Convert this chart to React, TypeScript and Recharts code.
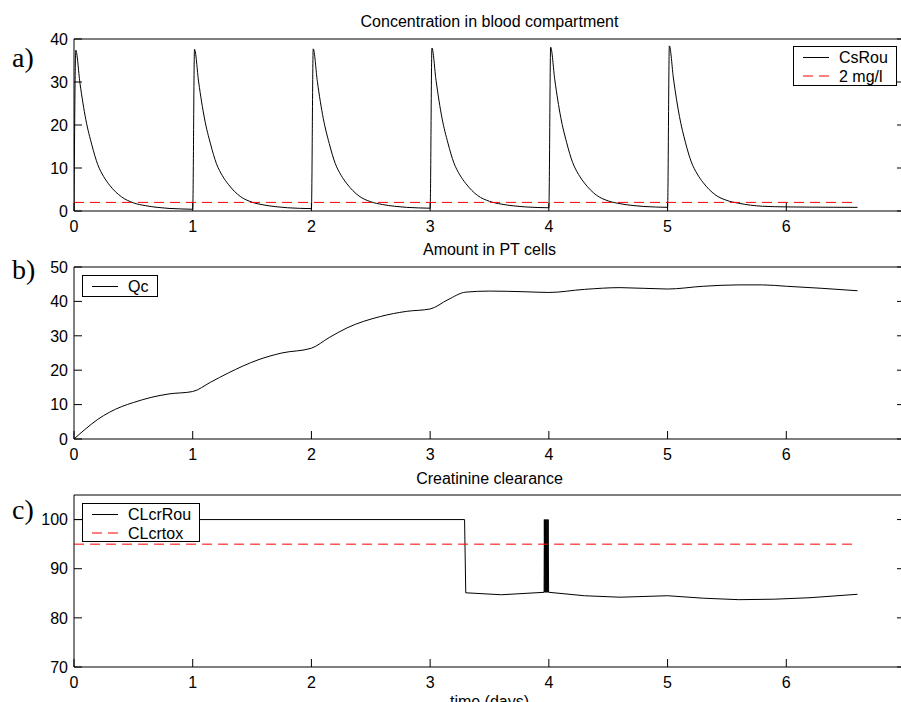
import { LineChart, Line, XAxis, YAxis, Legend } from 'recharts'

const SANS = '"Liberation Sans", Arial, Helvetica, sans-serif'
const SERIF = '"Liberation Serif", "Times New Roman", serif'

// time axis (days)
const dayTicks = [0, 1, 2, 3, 4, 5, 6]
const frameTicks = [0, 1, 2, 3, 4, 5, 6, 7]

// a) concentration in blood compartment, one profile per daily dose
const doseDays = [0, 1, 2, 3, 4, 5]
const doseOffsets = [0.015, 0.05, 0.1, 0.15, 0.2, 0.25, 0.3, 0.4, 0.5, 0.6, 0.7, 0.8, 0.9, 1.0, 1.2, 1.4, 1.6]
const doseProfiles = [
  [37.4, 29.8, 21.2, 15.4, 10.8, 8.0, 6.0, 3.3, 1.9, 1.25, 0.85, 0.6, 0.48, 0.4],
  [37.6, 30.0, 21.4, 15.6, 11.0, 8.2, 6.2, 3.4, 2.05, 1.4, 1.0, 0.75, 0.62, 0.55],
  [37.7, 30.1, 21.5, 15.7, 11.1, 8.3, 6.3, 3.5, 2.15, 1.5, 1.1, 0.85, 0.72, 0.65],
  [37.9, 30.3, 21.6, 15.8, 11.2, 8.4, 6.4, 3.6, 2.25, 1.6, 1.2, 0.95, 0.82, 0.75],
  [38.1, 30.5, 21.8, 15.9, 11.3, 8.5, 6.5, 3.7, 2.35, 1.7, 1.3, 1.05, 0.92, 0.85],
  [38.4, 30.7, 22.0, 16.0, 11.4, 8.6, 6.6, 3.8, 2.45, 1.8, 1.35, 1.1, 1.0, 0.95, 0.9, 0.87, 0.85]
]
const concLimitDays = [0, 6.6]
const concLimit = 2

// b) amount in PT cells
const qcDays = [0, 0.1, 0.2, 0.3, 0.4, 0.5, 0.65, 0.8, 1.0, 1.15, 1.3, 1.55, 1.75, 2.0, 2.15, 2.3, 2.58, 2.8, 3.0, 3.15, 3.3, 3.5, 3.8, 4.0, 4.3, 4.6, 5.0, 5.3, 5.6, 5.8, 6.0, 6.3, 6.6]
const qcValues = [0, 3.0, 5.7, 7.8, 9.4, 10.6, 12.1, 13.1, 13.8, 16.5, 19.2, 23.0, 25.0, 26.4, 29.5, 32.3, 35.6, 37.1, 37.8, 40.5, 42.7, 43.0, 42.8, 42.6, 43.5, 44.0, 43.6, 44.4, 44.8, 44.8, 44.4, 43.8, 43.1]

// c) creatinine clearance
const clDays = [0, 3.29, 3.3, 3.6, 3.96, 3.962, 3.966, 3.97, 3.974, 3.978, 3.982, 3.986, 3.99, 3.994, 3.998, 4.0, 4.3, 4.6, 5.0, 5.3, 5.6, 5.9, 6.2, 6.6]
const clValues = [100, 100, 85.1, 84.7, 85.2, 100, 85.2, 100, 85.2, 100, 85.2, 100, 85.2, 100, 85.2, 85.2, 84.5, 84.2, 84.5, 84.0, 83.7, 83.8, 84.1, 84.8]
const clToxDays = [0, 6.6]
const clTox = 95

const concData = [
  { t: 0, v: 0 },
  ...doseDays.flatMap((d, i) =>
    doseProfiles[i].map((v, j) => ({ t: +(d + doseOffsets[j]).toFixed(3), v }))
  )
]
const concLimitData = concLimitDays.map((t) => ({ t, v: concLimit }))
const qcData = qcDays.map((t, i) => ({ t, v: qcValues[i] }))
const clData = clDays.map((t, i) => ({ t, v: clValues[i] }))
const clToxData = clToxDays.map((t) => ({ t, v: clTox }))

const TICK_LEN = 8
const X_MARGIN = 21
const Y_MARGIN = 6

const BottomTick = ({ x, y, payload }: any) => (
  <g>
    <line x1={x} x2={x} y1={y - X_MARGIN} y2={y - X_MARGIN - TICK_LEN} stroke="#000" />
    <text x={x} y={y} textAnchor="middle" fontFamily={SANS} fontSize={16} fill="#000">
      {payload.value}
    </text>
  </g>
)
const TopTick = ({ x, y }: any) => <line x1={x} x2={x} y1={y} y2={y + TICK_LEN} stroke="#000" />
const LeftTick = ({ x, y, payload }: any) => (
  <g>
    <line x1={x + Y_MARGIN} x2={x + Y_MARGIN + TICK_LEN} y1={y} y2={y} stroke="#000" />
    <text x={x} y={y} dy="0.36em" textAnchor="end" fontFamily={SANS} fontSize={16} fill="#000">
      {payload.value}
    </text>
  </g>
)
const RightTick = ({ x, y }: any) => <line x1={x} x2={x - TICK_LEN} y1={y} y2={y} stroke="#000" />

interface Series {
  name: string
  data: { t: number; v: number }[]
  color: string
  dash?: string
  curve?: 'monotone' | 'linear'
}

interface LegendBoxProps {
  series: Series[]
  width: number
  height: number
}

function LegendBox({ series, width, height }: LegendBoxProps) {
  return (
    <div style={{ width, height, boxSizing: 'border-box', border: '1px solid #000', background: '#fff' }}>
      <svg width={width - 2} height={height - 2} style={{ display: 'block' }}>
        {series.map((s, i) => {
          const cy = 10.5 + i * 18.5
          return (
            <g key={s.name}>
              <line x1={9} x2={35} y1={cy} y2={cy} stroke={s.color} strokeDasharray={s.dash} />
              <text x={45} y={cy + 5.6} fontFamily={SANS} fontSize={16} fill="#000">
                {s.name}
              </text>
            </g>
          )
        })}
      </svg>
    </div>
  )
}

interface PanelProps {
  top: number
  yDomain: [number, number]
  yTicks: number[]
  series: Series[]
  legend: { left: number; top: number; width: number; height: number }
}

function Panel({ top, yDomain, yTicks, series, legend }: PanelProps) {
  return (
    <div style={{ position: 'absolute', left: 0, top }}>
      <LineChart width={910} height={240} margin={{ top: 38, right: 0, bottom: 0, left: 14 }}>
        <XAxis
          xAxisId={0}
          dataKey="t"
          type="number"
          domain={[0, 7]}
          ticks={dayTicks}
          interval={0}
          allowDataOverflow
          height={29}
          tickLine={false}
          tickSize={0}
          tickMargin={X_MARGIN}
          axisLine={{ stroke: '#000' }}
          tick={BottomTick}
        />
        <XAxis
          xAxisId="top"
          orientation="top"
          type="number"
          domain={[0, 7]}
          ticks={frameTicks}
          interval={0}
          allowDataOverflow
          height={1}
          tickLine={false}
          tickSize={0}
          tickMargin={0}
          axisLine={{ stroke: '#000' }}
          tick={TopTick}
        />
        <YAxis
          yAxisId={0}
          type="number"
          domain={yDomain}
          ticks={yTicks}
          interval={0}
          allowDataOverflow
          width={60}
          tickLine={false}
          tickSize={0}
          tickMargin={Y_MARGIN}
          axisLine={{ stroke: '#000' }}
          tick={LeftTick}
        />
        <YAxis
          yAxisId="right"
          orientation="right"
          type="number"
          domain={yDomain}
          ticks={yTicks}
          interval={0}
          allowDataOverflow
          width={5}
          tickLine={false}
          tickSize={0}
          tickMargin={0}
          axisLine={{ stroke: '#000' }}
          tick={RightTick}
        />
        {series.map((s) => (
          <Line
            key={s.name}
            xAxisId={0}
            yAxisId={0}
            name={s.name}
            data={s.data}
            dataKey="v"
            type={s.curve ?? 'linear'}
            stroke={s.color}
            strokeWidth={1}
            strokeDasharray={s.dash}
            dot={false}
            activeDot={false}
            isAnimationActive={false}
          />
        ))}
        <Legend
          layout="vertical"
          align="center"
          verticalAlign="middle"
          wrapperStyle={{ left: legend.left, top: legend.top, width: legend.width, height: legend.height }}
          content={() => <LegendBox series={series} width={legend.width} height={legend.height} />}
        />
      </LineChart>
    </div>
  )
}

export default function App() {
  return (
    <div style={{ position: 'absolute', left: 0, top: 0, width: 901, height: 702, overflow: 'hidden', background: '#fff' }}>
      <Panel
        top={0}
        yDomain={[0, 40]}
        yTicks={[0, 10, 20, 30, 40]}
        series={[
          { name: 'CsRou', data: concData, color: '#000', curve: 'monotone' },
          { name: '2 mg/l', data: concLimitData, color: '#ff0000', dash: '10 6' }
        ]}
        legend={{ left: 793, top: 46, width: 104, height: 40 }}
      />
      <Panel
        top={228}
        yDomain={[0, 50]}
        yTicks={[0, 10, 20, 30, 40, 50]}
        series={[{ name: 'Qc', data: qcData, color: '#000', curve: 'monotone' }]}
        legend={{ left: 82, top: 47, width: 76, height: 22 }}
      />
      <Panel
        top={456}
        yDomain={[70, 105]}
        yTicks={[70, 80, 90, 100]}
        series={[
          { name: 'CLcrRou', data: clData, color: '#000' },
          { name: 'CLcrtox', data: clToxData, color: '#ff0000', dash: '10 6' }
        ]}
        legend={{ left: 82, top: 47, width: 118, height: 39 }}
      />
      <svg width={901} height={702} style={{ position: 'absolute', left: 0, top: 0, pointerEvents: 'none' }}>
        <g fontFamily={SANS} fontSize={16} fill="#000" textAnchor="middle">
          <text x={489.5} y={27}>Concentration in blood compartment</text>
          <text x={489.5} y={255}>Amount in PT cells</text>
          <text x={489.5} y={484}>Creatinine clearance</text>
          <text x={489.5} y={707}>time (days)</text>
        </g>
        <g fontFamily={SERIF} fontSize={28} fill="#000">
          <text x={12} y={67}>a)</text>
          <text x={12} y={279}>b)</text>
          <text x={12} y={519}>c)</text>
        </g>
      </svg>
    </div>
  )
}
